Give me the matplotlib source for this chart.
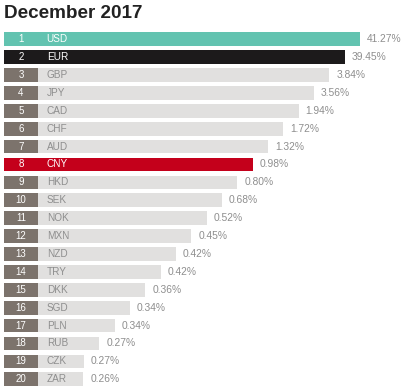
import numpy as np
import matplotlib
matplotlib.use("Agg")
import matplotlib.pyplot as plt


TITLE = "December 2017"
CURRENCIES = ["USD", "EUR", "GBP", "JPY", "CAD", "CHF", "AUD", "CNY", "HKD", "SEK",
              "NOK", "MXN", "NZD", "TRY", "DKK", "SGD", "PLN", "RUB", "CZK", "ZAR"]
SHARES = [41.27, 39.45, 3.84, 3.56, 1.94, 1.72, 1.32, 0.98, 0.80, 0.68,
          0.52, 0.45, 0.42, 0.42, 0.36, 0.34, 0.34, 0.27, 0.27, 0.26]
HIGHLIGHT = {"USD": "#62c3b0", "EUR": "#1c1a1b", "CNY": "#c4001b"}

BOX_COLOR = "#7c736c"
BAR_COLOR = "#e1e0df"
TEXT_GRAY = "#8e8e8e"


def main():
    plt.rcParams["font.family"] = ["Liberation Sans", "DejaVu Sans"]

    fig = plt.figure(figsize=(4.06, 3.90), dpi=100)
    ax = fig.add_axes([4 / 406, 1.75 / 390, 356 / 406, 358 / 390])

    n = len(CURRENCIES)
    ranks = np.arange(1, n + 1)
    # bars shrink by rank (ranking display), not by share
    widths = np.maximum(1 - 0.0431 * (ranks - 1), 0.222)
    box_w = 0.0955

    for r, cur, share, w in zip(ranks, CURRENCIES, SHARES, widths):
        if cur in HIGHLIGHT:
            ax.barh(r, w, height=0.77, left=0, color=HIGHLIGHT[cur])
            label_color = "white"
        else:
            ax.barh(r, w, height=0.77, left=0, color=BAR_COLOR)
            ax.barh(r, box_w, height=0.77, left=0, color=BOX_COLOR)
            label_color = TEXT_GRAY
        ax.text(box_w / 2, r, str(r), ha="center", va="center",
                fontsize=7, color="white")
        ax.text(0.12, r, cur, ha="left", va="center",
                fontsize=7.2, color=label_color)
        ax.text(w + 0.02, r, f"{share:.2f}%", ha="left", va="center",
                fontsize=7.4, color=TEXT_GRAY, clip_on=False)

    ax.set_xlim(0, 1)
    ax.set_ylim(n + 0.5, 0.5)
    ax.axis("off")

    fig.text(4 / 406, 1 - 17.5 / 390, TITLE, ha="left", va="baseline",
             fontsize=13.6, fontweight="bold", color="#222222")

    fig.savefig("out.png", dpi=100)


if __name__ == "__main__":
    main()
